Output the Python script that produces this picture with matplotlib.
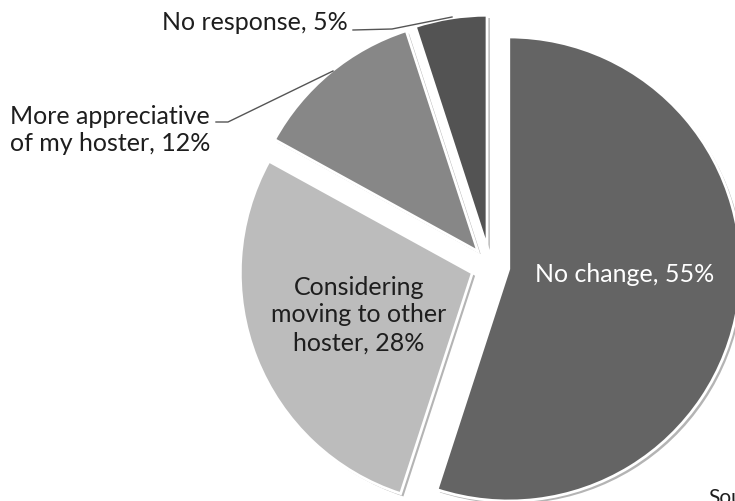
import matplotlib.pyplot as plt
import matplotlib.patheffects as pe

# survey answers, clockwise from 12 o'clock
labels = ['No change', 'Considering\nmoving to other\nhoster', 'More appreciative\nof my hoster', 'No response']
shares = [55, 28, 12, 5]
colors = ['#646464', '#bcbcbc', '#878787', '#535353']

W, H = 735, 501
fig = plt.figure(figsize=(W / 100, H / 100), dpi=100)
ax = fig.add_axes([0, 0, 1, 1])

R = 232
# explode is in data units here (axes are in pixels)
wedges, _ = ax.pie(shares, colors=colors, startangle=90, counterclock=False,
                   explode=[19] * 4, center=(490, H - 266), radius=R,
                   wedgeprops=dict(edgecolor='white', linewidth=2))
for w in wedges:
    w.set_path_effects([pe.SimplePatchShadow(offset=(2, -2), shadow_rgbFace='0.35', alpha=0.45),
                        pe.Normal()])

font = 'Lato'
txt = '#1e1e1e'
fs = 18
ax.text(625, H - 274, labels[0] + ', %d%%' % shares[0], color='white', fontsize=fs,
        family=font, ha='center', va='center')
ax.text(359, H - 315, labels[1] + ', %d%%' % shares[1], color=txt, fontsize=fs,
        family=font, ha='center', va='center', linespacing=1.25, multialignment='center')
ax.text(10, H - 130, labels[2] + ', %d%%' % shares[2], color=txt, fontsize=fs,
        family=font, ha='left', va='center', linespacing=1.25)
ax.text(348, H - 22, labels[3] + ', %d%%' % shares[3], color=txt, fontsize=fs,
        family=font, ha='right', va='center')

# leader lines for the two small slices
ax.plot([353, 392, 452], [H - 30, H - 29, H - 17], color='#555555', lw=1)
ax.plot([216, 228, 333], [H - 122, H - 122, H - 71], color='#555555', lw=1)

ax.text(708, H - 488, 'Source', color=txt, fontsize=15, family=font, ha='left', va='top')

ax.set_xlim(0, W)
ax.set_ylim(0, H)
ax.set_aspect('equal')
ax.axis('off')
fig.savefig('out.png', dpi=100)
